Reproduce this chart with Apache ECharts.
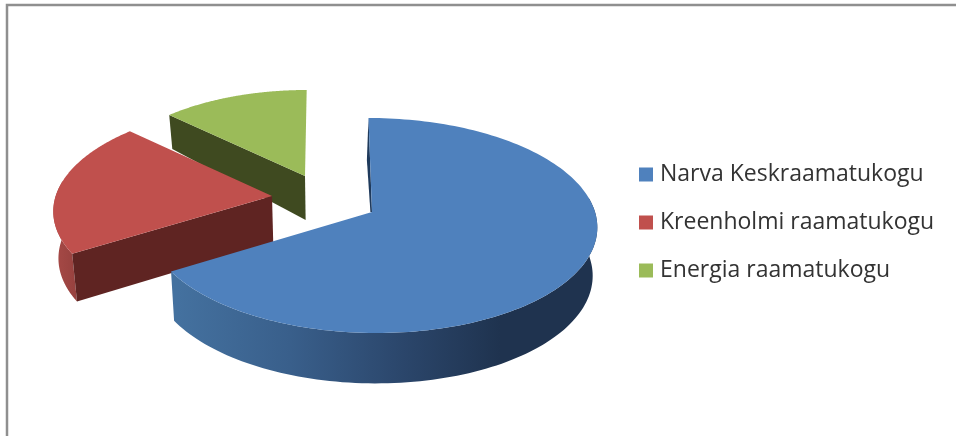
<!DOCTYPE html>
<html><head><meta charset="utf-8">
<style>html,body{margin:0;padding:0;background:#fff}#c{width:956px;height:436px}</style>
<script src="https://cdn.jsdelivr.net/npm/echarts@6/dist/echarts.min.js"></script>
</head><body><div id="c"></div>
<script>
const categories = ['Narva Keskraamatukogu', 'Kreenholmi raamatukogu', 'Energia raamatukogu'];
const values = [66.2, 20.8, 13];

// Colours and layout of the exploded 3-D pie
const topColors = ['#4f81bd', '#c0504d', '#9bbb59'];
const wallColors = ['#1f3a5c', '#5f2422', '#3f4a20'];
const apexX = [372, 272, 305];
const apexY = [212, 196, 176];
const sliceScale = [1, 0.97, 0.915];
const RX = 223, RY = 105.8, K = 0.1256, SHEAR = 0.09, VPX = 328, DEPTH = 48, BOTTOM_VPX = 340;

const total = values.reduce((a, b) => a + b, 0);
function range(i) {
  let s = 0;
  for (let j = 0; j < i; j++) s += values[j];
  return [s / total * 360, (s + values[i]) / total * 360];
}
function topPoint(i, deg) {
  const t = deg * Math.PI / 180, u = Math.sin(t), v = Math.cos(t);
  const s = 1 / (1 + K * v), m = sliceScale[i];
  return {
    x: apexX[i] + m * (RX * u + SHEAR * (VPX - apexX[i]) * v) * s,
    y: apexY[i] - m * RY * v * s,
    v: v
  };
}
function lower(i, p) {
  const d = DEPTH * sliceScale[i] * (p.v > 0 ? 1 - 0.33 * p.v : 1 - 0.05 * p.v);
  return [p.x + (BOTTOM_VPX - p.x) * 0.018, p.y + d];
}
function sideFill(i) {
  if (i === 0) {
    return new echarts.graphic.LinearGradient(177, 0, 500, 0, [
      { offset: 0, color: '#44719f' },
      { offset: 0.35, color: '#395f8b' },
      { offset: 0.7, color: '#2b466b' },
      { offset: 1, color: '#1f334f' }
    ], true);
  }
  return new echarts.graphic.LinearGradient(53, 0, 80, 0, [
    { offset: 0, color: '#a84a47' },
    { offset: 1, color: '#94403d' }
  ], true);
}
function renderSlice(params) {
  const i = params.seriesIndex;
  const [a0, a1] = range(i);
  const arc = [];
  const steps = 160;
  for (let k = 0; k <= steps; k++) arc.push(topPoint(i, a0 + (a1 - a0) * k / steps));
  const A = [apexX[i], apexY[i]];
  const Ab = lower(i, { x: apexX[i], y: apexY[i], v: 0 });
  const first = arc[0];
  const children = [];
  // outer rim: only the front half of the cylinder can be seen
  const front = arc.filter(p => p.v < 0.15);
  if (front.length > 1) {
    const rim = front.map(p => [p.x, p.y]).concat(front.slice().reverse().map(p => lower(i, p)));
    children.push({ type: 'polygon', shape: { points: rim }, style: { fill: sideFill(i) } });
  }
  // cut wall on the slice's leading edge
  const wall = apexX[i] > BOTTOM_VPX
    ? [[first.x, first.y], A, [A[0] - 1.6, A[1]], [first.x - 1.6, first.y + 42]]
    : [A, [first.x, first.y], lower(i, first), Ab];
  children.push({ type: 'polygon', shape: { points: wall }, style: { fill: wallColors[i] } });
  // top face
  const face = [A].concat(arc.map(p => [p.x, p.y]));
  children.push({ type: 'polygon', shape: { points: face }, style: { fill: topColors[i] } });
  return { type: 'group', children: children };
}

const chart = echarts.init(document.getElementById('c'), null, { renderer: 'canvas' });
chart.setOption({
  animation: false,
  backgroundColor: '#ffffff',
  legend: {
    orient: 'vertical',
    left: 634,
    top: 156,
    itemWidth: 14,
    itemHeight: 14,
    itemGap: 21,
    icon: 'rect',
    data: categories,
    selectedMode: false,
    textStyle: { fontFamily: 'Open Sans', fontSize: 23, color: '#333333', padding: [0, 0, 0, 2], height: 27, lineHeight: 27 }
  },
  graphic: [
    { type: 'polyline', silent: true, shape: { points: [[7, 436], [7, 5], [956, 5]] },
      style: { stroke: '#8f8f8f', lineWidth: 2.5, fill: null } }
  ],
  series: categories.map((name, i) => ({
    type: 'custom',
    name: name,
    coordinateSystem: 'none',
    z: 3 - i,
    itemStyle: { color: topColors[i] },
    renderItem: renderSlice,
    data: [values[i]]
  }))
});
</script></body></html>
